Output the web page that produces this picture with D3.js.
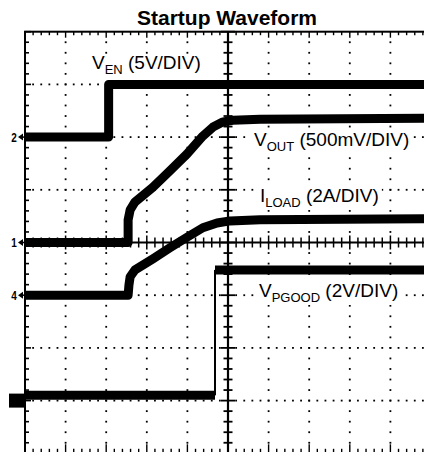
<!DOCTYPE html>
<html><head><meta charset="utf-8">
<script src="https://cdn.jsdelivr.net/npm/d3@7"></script>
<style>html,body{margin:0;padding:0;background:#fff}svg{display:block}</style>
</head><body><svg id="c" width="424" height="452"></svg>
<script>
// ---- data (time in screen divisions 0..10, level in divisions from screen centre) ----
const title = "Startup Waveform";
const venTime   = [0, 2.06, 2.06, 10];
const venLevel  = [2.0, 2.0, 3.0, 3.0];
const voutTime  = [0, 2.54, 2.54, 2.59, 2.71, 3.15, 3.57, 3.99, 4.38, 4.63, 4.88, 5.12, 5.79, 10];
const voutLevel = [0, 0, 0.43, 0.62, 0.77, 1.05, 1.36, 1.68, 2.02, 2.19, 2.29, 2.32, 2.34, 2.36];
const iloadTime  = [0, 2.54, 2.56, 2.59, 2.71, 3.15, 3.57, 3.99, 4.38, 4.73, 5.05, 5.79, 10];
const iloadLevel = [-1.0, -1.0, -0.81, -0.65, -0.52, -0.31, -0.10, 0.10, 0.28, 0.37, 0.41, 0.43, 0.45];
const pgoodTime  = [0, 4.68, 4.68, 10];
const pgoodLevel = [-2.9, -2.9, -0.52, -0.52];
const markerNames  = ["2", "1", "4"];
const markerLevels = [2, 0, -1];
const boxMarkerLevel = -3;
const labelMain  = ["V", "V", "I", "V"];
const labelSub   = ["EN", "OUT", "LOAD", "PGOOD"];
const labelScale = ["(5V/DIV)", "(500mV/DIV)", "(2A/DIV)", "(2V/DIV)"];

// ---- layout ----
const svg = d3.select("#c");
const x = d3.scaleLinear().domain([0, 10]).range([25, 431]);
const y = d3.scaleLinear().domain([-4, 4]).range([453.3, 31.7]);
const FONT = "'Liberation Sans', Arial, Helvetica, sans-serif";

svg.append("rect").attr("width", 424).attr("height", 452).attr("fill", "#fff");

// title
svg.append("text").attr("x", 227).attr("y", 25).attr("text-anchor", "middle")
  .attr("font-family", FONT).attr("font-weight", "bold").attr("font-size", 21)
  .text(title);

const g = svg.append("g");
const minorX = d3.range(0, 50.5).map(i => i / 5);
const minorY = d3.range(-20, 20.5).map(i => i / 5);
const isMajor = v => Math.abs(v - Math.round(v)) < 1e-6;

// dotted grid
const majX = d3.range(1, 10).filter(v => v !== 5);
const majY = d3.range(-3, 4).filter(v => v !== 0);
majY.forEach(lv => {
  g.selectAll(null).data(minorX.filter(v => v > 0)).join("rect")
    .attr("x", d => x(d) - 0.9).attr("y", y(lv) - 0.9).attr("width", 1.8).attr("height", 1.8).attr("fill", "#000");
});
majX.forEach(tv => {
  g.selectAll(null).data(minorY.filter(v => v > -4 && v < 4)).join("rect")
    .attr("x", x(tv) - 0.9).attr("y", d => y(d) - 0.9).attr("width", 1.8).attr("height", 1.8).attr("fill", "#000");
});

// border
g.append("rect").attr("x", x(0)).attr("y", y(4)).attr("width", x(10) - x(0)).attr("height", y(-4) - y(4))
  .attr("fill", "none").attr("stroke", "#000").attr("stroke-width", 2);

// centre axes
g.append("line").attr("x1", x(0)).attr("x2", x(10)).attr("y1", y(0)).attr("y2", y(0)).attr("stroke", "#000").attr("stroke-width", 2);
g.append("line").attr("x1", x(5)).attr("x2", x(5)).attr("y1", y(4)).attr("y2", y(-4)).attr("stroke", "#000").attr("stroke-width", 2.2);

// ticks on centre horizontal axis
g.selectAll(null).data(minorX).join("line")
  .attr("x1", d => x(d)).attr("x2", d => x(d))
  .attr("y1", d => y(0) - (isMajor(d) ? 7 : 5)).attr("y2", d => y(0) + (isMajor(d) ? 7 : 5))
  .attr("stroke", "#000").attr("stroke-width", 1.5);
// ticks on centre vertical axis
g.selectAll(null).data(minorY).join("line")
  .attr("y1", d => y(d)).attr("y2", d => y(d))
  .attr("x1", d => x(5) - (isMajor(d) ? 7 : 4.5)).attr("x2", d => x(5) + (isMajor(d) ? 7 : 4.5))
  .attr("stroke", "#000").attr("stroke-width", 1.8);
// top border ticks
g.selectAll(null).data(minorX).join("line")
  .attr("x1", d => x(d)).attr("x2", d => x(d))
  .attr("y1", y(4)).attr("y2", d => y(4) + (isMajor(d) ? 6 : 3.5))
  .attr("stroke", "#000").attr("stroke-width", 1.4);
// bottom border ticks
g.selectAll(null).data(minorX).join("line")
  .attr("x1", d => x(d)).attr("x2", d => x(d))
  .attr("y1", y(-4)).attr("y2", d => y(-4) - (isMajor(d) ? 9 : 4.5))
  .attr("stroke", "#000").attr("stroke-width", 1.4);
// left border ticks
g.selectAll(null).data(minorY).join("line")
  .attr("y1", d => y(d)).attr("y2", d => y(d))
  .attr("x1", x(0)).attr("x2", d => x(0) + (isMajor(d) ? 6 : 4))
  .attr("stroke", "#000").attr("stroke-width", 1.6);

// labels with white backing
function addLabel(i, px, py) {
  const t = svg.append("text").attr("x", px).attr("y", py)
    .attr("font-family", FONT).attr("font-size", 19).attr("fill", "#000");
  t.append("tspan").text(labelMain[i]);
  t.append("tspan").attr("font-size", 13).attr("dy", 5).text(labelSub[i]);
  t.append("tspan").attr("dy", -5).text("\u00a0" + labelScale[i]);
  const b = t.node().getBBox();
  svg.insert("rect", () => t.node()).attr("x", b.x - 3).attr("y", b.y + 2).attr("width", b.width + 6).attr("height", b.height - 2).attr("fill", "#fff");
}

// traces
const line = d3.line().x(d => x(d[0])).y(d => y(d[1]));
function trace(tt, lv, w) {
  svg.append("path").datum(d3.zip(tt, lv)).attr("d", line)
    .attr("fill", "none").attr("stroke", "#000").attr("stroke-width", w)
    .attr("stroke-linejoin", "round");
}
addLabel(0, 92, 69);
addLabel(1, 254, 146);
addLabel(2, 260, 202);
addLabel(3, 259, 297);

trace(venTime, venLevel, 9);
trace(voutTime, voutLevel, 9);
trace(iloadTime, iloadLevel, 9);
// PGOOD: thick levels, thin edge
svg.append("path").datum(d3.zip(pgoodTime.slice(0, 2), pgoodLevel.slice(0, 2))).attr("d", line)
  .attr("fill", "none").attr("stroke", "#000").attr("stroke-width", 9);
svg.append("path").datum(d3.zip(pgoodTime.slice(1, 3), pgoodLevel.slice(1, 3))).attr("d", line)
  .attr("fill", "none").attr("stroke", "#000").attr("stroke-width", 2);
svg.append("path").datum(d3.zip(pgoodTime.slice(2), pgoodLevel.slice(2))).attr("d", line)
  .attr("fill", "none").attr("stroke", "#000").attr("stroke-width", 9);

// channel ground markers
markerNames.forEach((nm, i) => {
  const yy = y(markerLevels[i]);
  svg.append("text").attr("x", 14).attr("y", yy + 4.5).attr("text-anchor", "middle")
    .attr("font-family", FONT).attr("font-weight", "bold").attr("font-size", 12.5)
    .attr("transform", `translate(14,0) scale(0.8,1) translate(-14,0)`).text(nm);
  svg.append("path").attr("d", `M${18},${yy} L${23},${yy - 3.5} L${23},${yy + 3.5} Z`).attr("fill", "#000");
  svg.append("line").attr("x1", 22).attr("x2", 26).attr("y1", yy).attr("y2", yy).attr("stroke", "#000").attr("stroke-width", 1.5);
});
svg.append("rect").attr("x", 9).attr("y", y(boxMarkerLevel) - 7).attr("width", 16).attr("height", 14).attr("fill", "#000");
</script></body></html>
